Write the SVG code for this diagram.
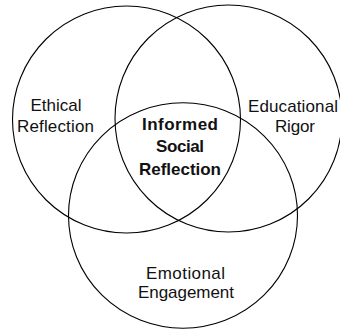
<svg xmlns="http://www.w3.org/2000/svg" width="340" height="329" viewBox="0 0 340 329">
<style>
.c{fill:none;stroke:#000;stroke-width:1.1}
.t{font-family:"Liberation Sans",Arial,sans-serif;font-size:17px;fill:#111;text-anchor:middle}
.b{font-weight:bold}
</style>
<rect width="340" height="329" fill="#fff"/>
<g id="ethical">
<ellipse class="c" cx="126.5" cy="119.5" rx="114" ry="113.5"/>
<text class="t" x="56" y="111" textLength="51">Ethical</text>
<text class="t" x="55.5" y="132" textLength="77">Reflection</text>
</g>
<g id="educational">
<ellipse class="c" cx="228.5" cy="118.5" rx="113.5" ry="113.5"/>
<text class="t" x="293" y="112" textLength="90">Educational</text>
<text class="t" x="295" y="132" textLength="40">Rigor</text>
</g>
<g id="emotional">
<ellipse class="c" cx="183" cy="215.5" rx="114.5" ry="112.7"/>
<text class="t" x="185.5" y="278.5" textLength="79">Emotional</text>
<text class="t" x="186" y="298" textLength="96">Engagement</text>
</g>
<g id="center">
<text class="t b" x="180" y="130" textLength="76">Informed</text>
<text class="t b" x="180" y="152" textLength="48">Social</text>
<text class="t b" x="180" y="175" textLength="82">Reflection</text>
</g>
</svg>
